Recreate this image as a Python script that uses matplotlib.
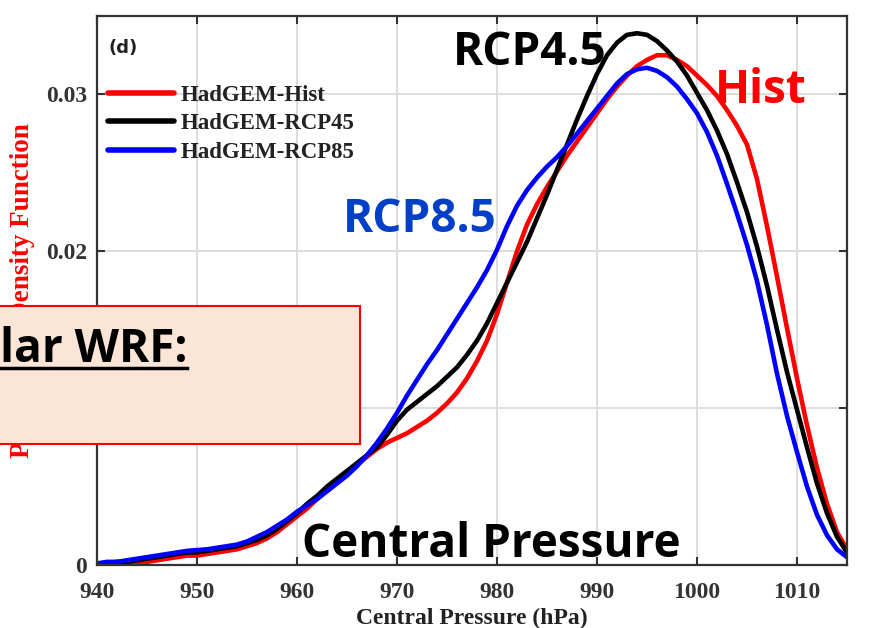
import matplotlib
matplotlib.use('Agg')
import matplotlib.pyplot as plt
from matplotlib.patches import Rectangle
from matplotlib.lines import Line2D

# central pressure (hPa)
pressure = list(range(940, 1016))

# HadGEM-Hist
pdf_hist = [0.0000, 0.0001, 0.0001, 0.0001, 0.0002, 0.0002, 0.0003, 0.0004, 0.0005, 0.0006,
            0.0006, 0.0007, 0.0008, 0.0009, 0.0010, 0.0012, 0.0014, 0.0017, 0.0021, 0.0026,
            0.0031, 0.0036, 0.0042, 0.0048, 0.0054, 0.0059, 0.0064, 0.0069, 0.0074, 0.0078,
            0.0081, 0.0084, 0.0088, 0.0092, 0.0097, 0.0103, 0.0110, 0.0119, 0.0130, 0.0143,
            0.0160, 0.0180, 0.0200, 0.0217, 0.0230, 0.0241, 0.0251, 0.0261, 0.0270, 0.0279,
            0.0288, 0.0297, 0.0305, 0.0312, 0.0318, 0.0322, 0.0325, 0.0325, 0.0322, 0.0318,
            0.0312, 0.0306, 0.0299, 0.0290, 0.0280, 0.0268, 0.0246, 0.0216, 0.0184, 0.0151,
            0.0119, 0.0089, 0.0062, 0.0039, 0.0021, 0.0010]

# HadGEM-RCP45
pdf_rcp45 = [0.0001, 0.0001, 0.0002, 0.0002, 0.0003, 0.0004, 0.0005, 0.0006, 0.0007, 0.0008,
             0.0008, 0.0009, 0.0010, 0.0011, 0.0012, 0.0014, 0.0016, 0.0019, 0.0023, 0.0028,
             0.0033, 0.0039, 0.0044, 0.0050, 0.0055, 0.0060, 0.0065, 0.0070, 0.0075, 0.0083,
             0.0092, 0.0099, 0.0104, 0.0109, 0.0114, 0.0120, 0.0126, 0.0134, 0.0143, 0.0154,
             0.0167, 0.0180, 0.0193, 0.0206, 0.0221, 0.0236, 0.0252, 0.0268, 0.0284, 0.0299,
             0.0313, 0.0325, 0.0333, 0.0338, 0.0339, 0.0338, 0.0334, 0.0328, 0.0321, 0.0312,
             0.0301, 0.0290, 0.0277, 0.0262, 0.0244, 0.0225, 0.0203, 0.0178, 0.0150, 0.0123,
             0.0099, 0.0075, 0.0052, 0.0033, 0.0018, 0.0008]

# HadGEM-RCP85
pdf_rcp85 = [0.0001, 0.0002, 0.0002, 0.0003, 0.0004, 0.0005, 0.0006, 0.0007, 0.0008, 0.0009,
             0.00095, 0.0010, 0.0011, 0.0012, 0.0013, 0.0015, 0.0018, 0.0021, 0.0025, 0.0029,
             0.0034, 0.0038, 0.0042, 0.0047, 0.0052, 0.0057, 0.0063, 0.0070, 0.0078, 0.0087,
             0.0097, 0.0108, 0.0118, 0.0128, 0.0137, 0.0147, 0.0157, 0.0167, 0.0177, 0.0188,
             0.0201, 0.0216, 0.0229, 0.0239, 0.0247, 0.0254, 0.0260, 0.0267, 0.0275, 0.0283,
             0.0291, 0.0299, 0.0307, 0.0313, 0.0316, 0.0317, 0.0315, 0.0311, 0.0305, 0.0297,
             0.0288, 0.0276, 0.0261, 0.0243, 0.0224, 0.0204, 0.0181, 0.0153, 0.0122, 0.0095,
             0.0072, 0.0050, 0.0032, 0.0019, 0.0010, 0.0005]

labels = ['HadGEM-Hist', 'HadGEM-RCP45', 'HadGEM-RCP85']
colors = ['#ff0000', '#000000', '#0000ff']
xticks = [940, 950, 960, 970, 980, 990, 1000, 1010]
yticks = [0, 0.01, 0.02, 0.03]
yticklabels = ['0', '0.01', '0.02', '0.03']

W, H = 872, 628
fig = plt.figure(figsize=(W / 100, H / 100), dpi=100)
ax = fig.add_axes([97 / W, 1 - 565 / H, 750 / W, 549 / H])

for series, lab, c in zip([pdf_hist, pdf_rcp45, pdf_rcp85], labels, colors):
    ax.plot(pressure, series, color=c, linewidth=3.3, label=lab,
            solid_capstyle='round', solid_joinstyle='round')

ax.set_xlim(940, 1015)
ax.set_ylim(0, 0.035)
ax.set_xticks(xticks)
ax.set_yticks(yticks)
ax.set_yticklabels(yticklabels)
ax.grid(True, color='#dadada', linewidth=1.3)
ax.set_axisbelow(True)
for s in ax.spines.values():
    s.set_color('#333333')
    s.set_linewidth(1.6)
ax.tick_params(direction='in', top=True, right=True, length=6, width=1.5, color='#333333')
ax.tick_params(axis='x', pad=12)
ax.tick_params(axis='y', pad=7)
for t in ax.get_xticklabels() + ax.get_yticklabels():
    t.set_fontfamily('Liberation Serif')
    t.set_fontweight('bold')
    t.set_fontsize(17)
    t.set_color('#333333')

leg = ax.legend(loc='upper left', bbox_to_anchor=(0.0147, 0.875), frameon=False,
                borderpad=0, borderaxespad=0, handlelength=2.9, handletextpad=0.25,
                labelspacing=0.33,
                prop={'family': 'Liberation Serif', 'weight': 'bold', 'size': 16.5})
for t in leg.get_texts():
    t.set_color('#222222')
for l in leg.get_lines():
    l.set_linewidth(4)

ax.text(108, H - 48, '(d)', transform=None, fontsize=13, fontweight='bold',
        family='DejaVu Sans', color='#222222', va='center', ha='left')

# axis titles
fig.text(23 / W, 1 - 123 / H, 'Probability Density Function', rotation=90, ha='center', va='top',
         family='Liberation Serif', fontweight='bold', fontsize=19.5, color='#ff0000', zorder=0.5)
fig.text(472 / W, 4 / H, 'Central Pressure (hPa)', ha='center', va='baseline',
         family='Liberation Serif', fontweight='bold', fontsize=17, color='#222222')

# big annotations
big = dict(family='Open Sans', fontweight='bold', fontsize=33)
fig.text(453 / W, 1 - 65 / H, 'RCP4.5', color='black', va='baseline', **big)
fig.text(715 / W, 1 - 103 / H, 'Hist', color='#ff0000', va='baseline', **big)
fig.text(343 / W, 1 - 232 / H, 'RCP8.5', color='#0040c8', va='baseline', **big)
fig.text(302 / W, 1 - 557 / H, 'Central Pressure', color='black', va='baseline', **big)

# overlay box
box = Rectangle((-20 / W, 1 - 444 / H), 380 / W, 138 / H, transform=fig.transFigure,
                facecolor='#fbe5d6', edgecolor='#ff0000', linewidth=1.5, zorder=5)
fig.add_artist(box)
bt = fig.text(187 / W, 1 - 362 / H, 'lar WRF:', ha='right', va='baseline', color='black',
              zorder=6, **big)
fig.canvas.draw()
bb = bt.get_window_extent()
fig.add_artist(Line2D([bb.x0 / W, bb.x1 / W], [(H - 368) / H] * 2, transform=fig.transFigure,
                      color='black', linewidth=2.5, zorder=6))

fig.savefig('out.png', dpi=100)
